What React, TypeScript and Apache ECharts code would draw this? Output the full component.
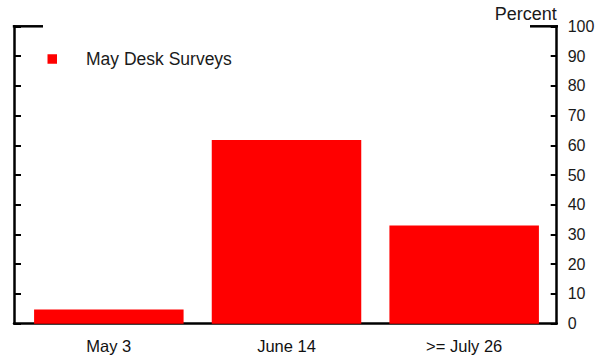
import React, { useEffect, useRef } from "react";
import * as echarts from "echarts";

const categories = ["May 3", "June 14", ">= July 26"];
const mayDeskSurveys = [4.8, 61.8, 33];
const seriesName = "May Desk Surveys";
const axisName = "Percent";

const FONT = "'Liberation Sans', Arial, Helvetica, sans-serif";

export default function App() {
  const ref = useRef<HTMLDivElement>(null);
  useEffect(() => {
    if (!ref.current) return;
    const chart = echarts.init(ref.current, null, { renderer: "svg" });
    chart.setOption({
      animation: false,
      backgroundColor: "#ffffff",
      textStyle: { fontFamily: FONT },
      legend: {
        data: [seriesName],
        left: 47.5,
        top: 49,
        padding: 0,
        icon: "rect",
        itemWidth: 9.5,
        itemHeight: 9.5,
        textStyle: {
          fontSize: 17.5,
          color: "#1a1a1a",
          fontFamily: FONT,
          lineHeight: 20,
          padding: [0, 0, 0, 24],
        },
      },
      grid: [
        { left: 14, right: 48.3, top: 26.3, bottom: 34.3 },
        { left: 20, right: 52, top: 26.3, bottom: 34.3 },
      ],
      xAxis: [
        {
          type: "category",
          gridIndex: 0,
          data: ["a"],
          axisLine: { show: true, lineStyle: { color: "#000", width: 2.5 } },
          axisTick: { show: false },
          axisLabel: { show: false },
        },
        {
          type: "category",
          gridIndex: 1,
          data: categories,
          axisLine: { show: false },
          axisTick: { show: false },
          axisLabel: {
            fontSize: 16.5,
            color: "#111",
            margin: 14,
            fontFamily: FONT,
          },
        },
      ],
      yAxis: [
        {
          type: "value",
          gridIndex: 0,
          position: "left",
          min: 0,
          max: 100,
          interval: 10,
          splitLine: { show: false },
          axisLine: { show: true, lineStyle: { color: "#000", width: 2.5 } },
          axisTick: { show: true, inside: true, length: 7, lineStyle: { color: "#000", width: 2 } },
          axisLabel: { show: false },
        },
        {
          type: "value",
          gridIndex: 0,
          position: "right",
          min: 0,
          max: 100,
          interval: 10,
          name: axisName,
          nameLocation: "end",
          nameGap: 12,
          nameTextStyle: {
            fontSize: 18,
            color: "#1a1a1a",
            align: "right",
            verticalAlign: "middle",
            fontFamily: FONT,
          },
          splitLine: { show: false },
          axisLine: { show: true, lineStyle: { color: "#000", width: 2.5 } },
          axisTick: { show: true, inside: true, length: 6, lineStyle: { color: "#000", width: 2 } },
          axisLabel: { fontSize: 16, color: "#1a1a1a", margin: 11, fontFamily: FONT },
        },
        {
          type: "value",
          gridIndex: 1,
          min: 0,
          max: 100,
          show: false,
        },
      ],
      series: [
        {
          name: seriesName,
          type: "bar",
          xAxisIndex: 1,
          yAxisIndex: 2,
          data: mayDeskSurveys,
          barWidth: 149.5,
          itemStyle: { color: "#ff0000" },
        },
      ],
      graphic: [
        { type: "line", shape: { x1: 12.8, y1: 26.3, x2: 43, y2: 26.3 }, style: { stroke: "#000", lineWidth: 2.5 } },
        { type: "line", shape: { x1: 530, y1: 26.3, x2: 558, y2: 26.3 }, style: { stroke: "#000", lineWidth: 2.5 } },
      ],
    });
    return () => chart.dispose();
  }, []);
  return (
    <div
      ref={ref}
      style={{ position: "absolute", left: 0, top: 0, width: 605, height: 358 }}
    />
  );
}
